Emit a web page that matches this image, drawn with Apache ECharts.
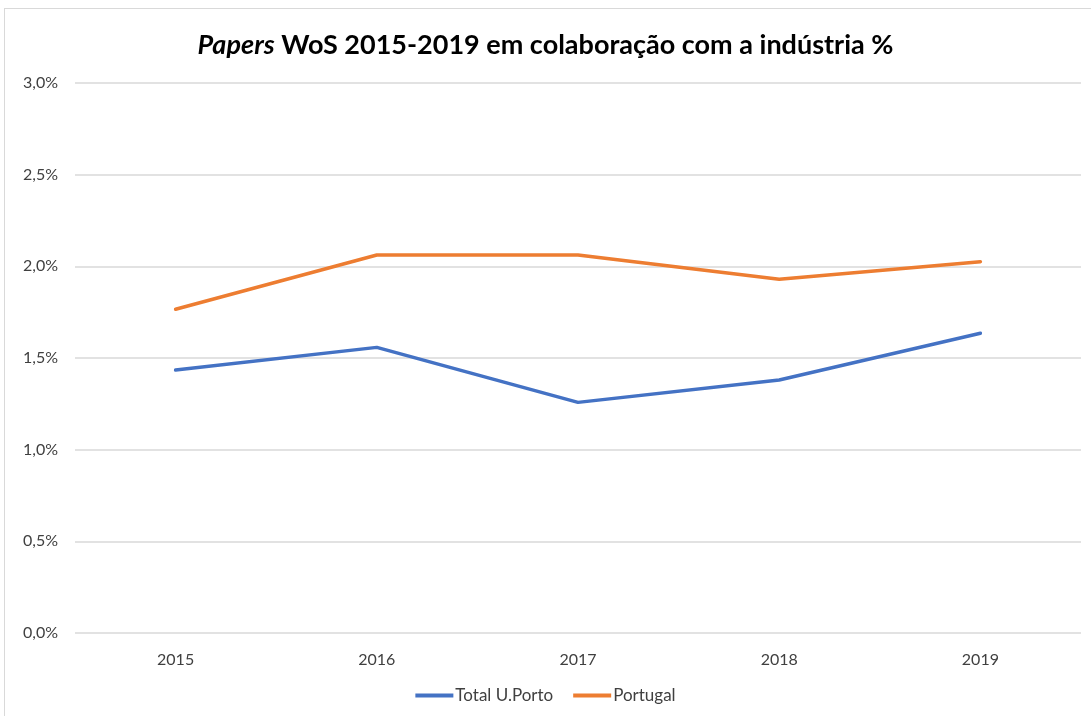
<!DOCTYPE html>
<html><head><meta charset="utf-8">
<script src="https://cdn.jsdelivr.net/npm/echarts@6/dist/echarts.min.js"></script>
<style>html,body{margin:0;padding:0;background:#fff}#c{width:1091px;height:716px}
#frame{position:absolute;left:4px;top:8px;width:1100px;height:720px;border:1px solid #d9d9d9;pointer-events:none}</style>
</head><body><div id="c"></div><div id="frame"></div>
<script>
const categories = ['2015','2016','2017','2018','2019'];
const totalUPorto = [1.434, 1.558, 1.258, 1.380, 1.635];
const portugal = [1.766, 2.062, 2.062, 1.929, 2.025];
const yTicks = [0, 0.5, 1, 1.5, 2, 2.5, 3];
const F = 'Lato, "Open Sans", sans-serif';
const chart = echarts.init(document.getElementById('c'));
chart.setOption({
  animation:false,
  title:{text:'{i|Papers} WoS 2015-2019 em colaboração com a indústria %',left:'center',top:27,
    textStyle:{fontFamily:F,fontSize:27,fontWeight:'bold',color:'#000',
      rich:{i:{fontFamily:F,fontSize:27,fontWeight:'bold',fontStyle:'italic',color:'#000'}}}},
  legend:{bottom:7,left:'center',itemWidth:38,itemHeight:4,itemGap:20,icon:'rect',
    textStyle:{fontFamily:F,fontSize:17,color:'#404040',padding:[0,0,0,-3]}},
  grid:{left:75,right:10,top:83,bottom:83},
  xAxis:{type:'category',data:categories,boundaryGap:true,
    axisLine:{show:false},axisTick:{show:false},
    axisLabel:{fontFamily:F,fontSize:16,color:'#404040',margin:19}},
  yAxis:{type:'value',min:yTicks[0],max:yTicks[yTicks.length-1],interval:0.5,
    axisLine:{show:false},axisTick:{show:false},
    splitLine:{lineStyle:{color:'#d9d9d9',width:1.5}},
    axisLabel:{fontFamily:F,fontSize:16,color:'#404040',margin:17,
      formatter:v=>v.toFixed(1).replace('.',',')+'%'}},
  series:[
    {name:'Total U.Porto',type:'line',data:totalUPorto,symbol:'none',
      lineStyle:{width:3.5,color:'#4472c4',cap:'round'},itemStyle:{color:'#4472c4'}},
    {name:'Portugal',type:'line',data:portugal,symbol:'none',
      lineStyle:{width:3.5,color:'#ed7d31',cap:'round'},itemStyle:{color:'#ed7d31'}}
  ]
});
</script></body></html>
